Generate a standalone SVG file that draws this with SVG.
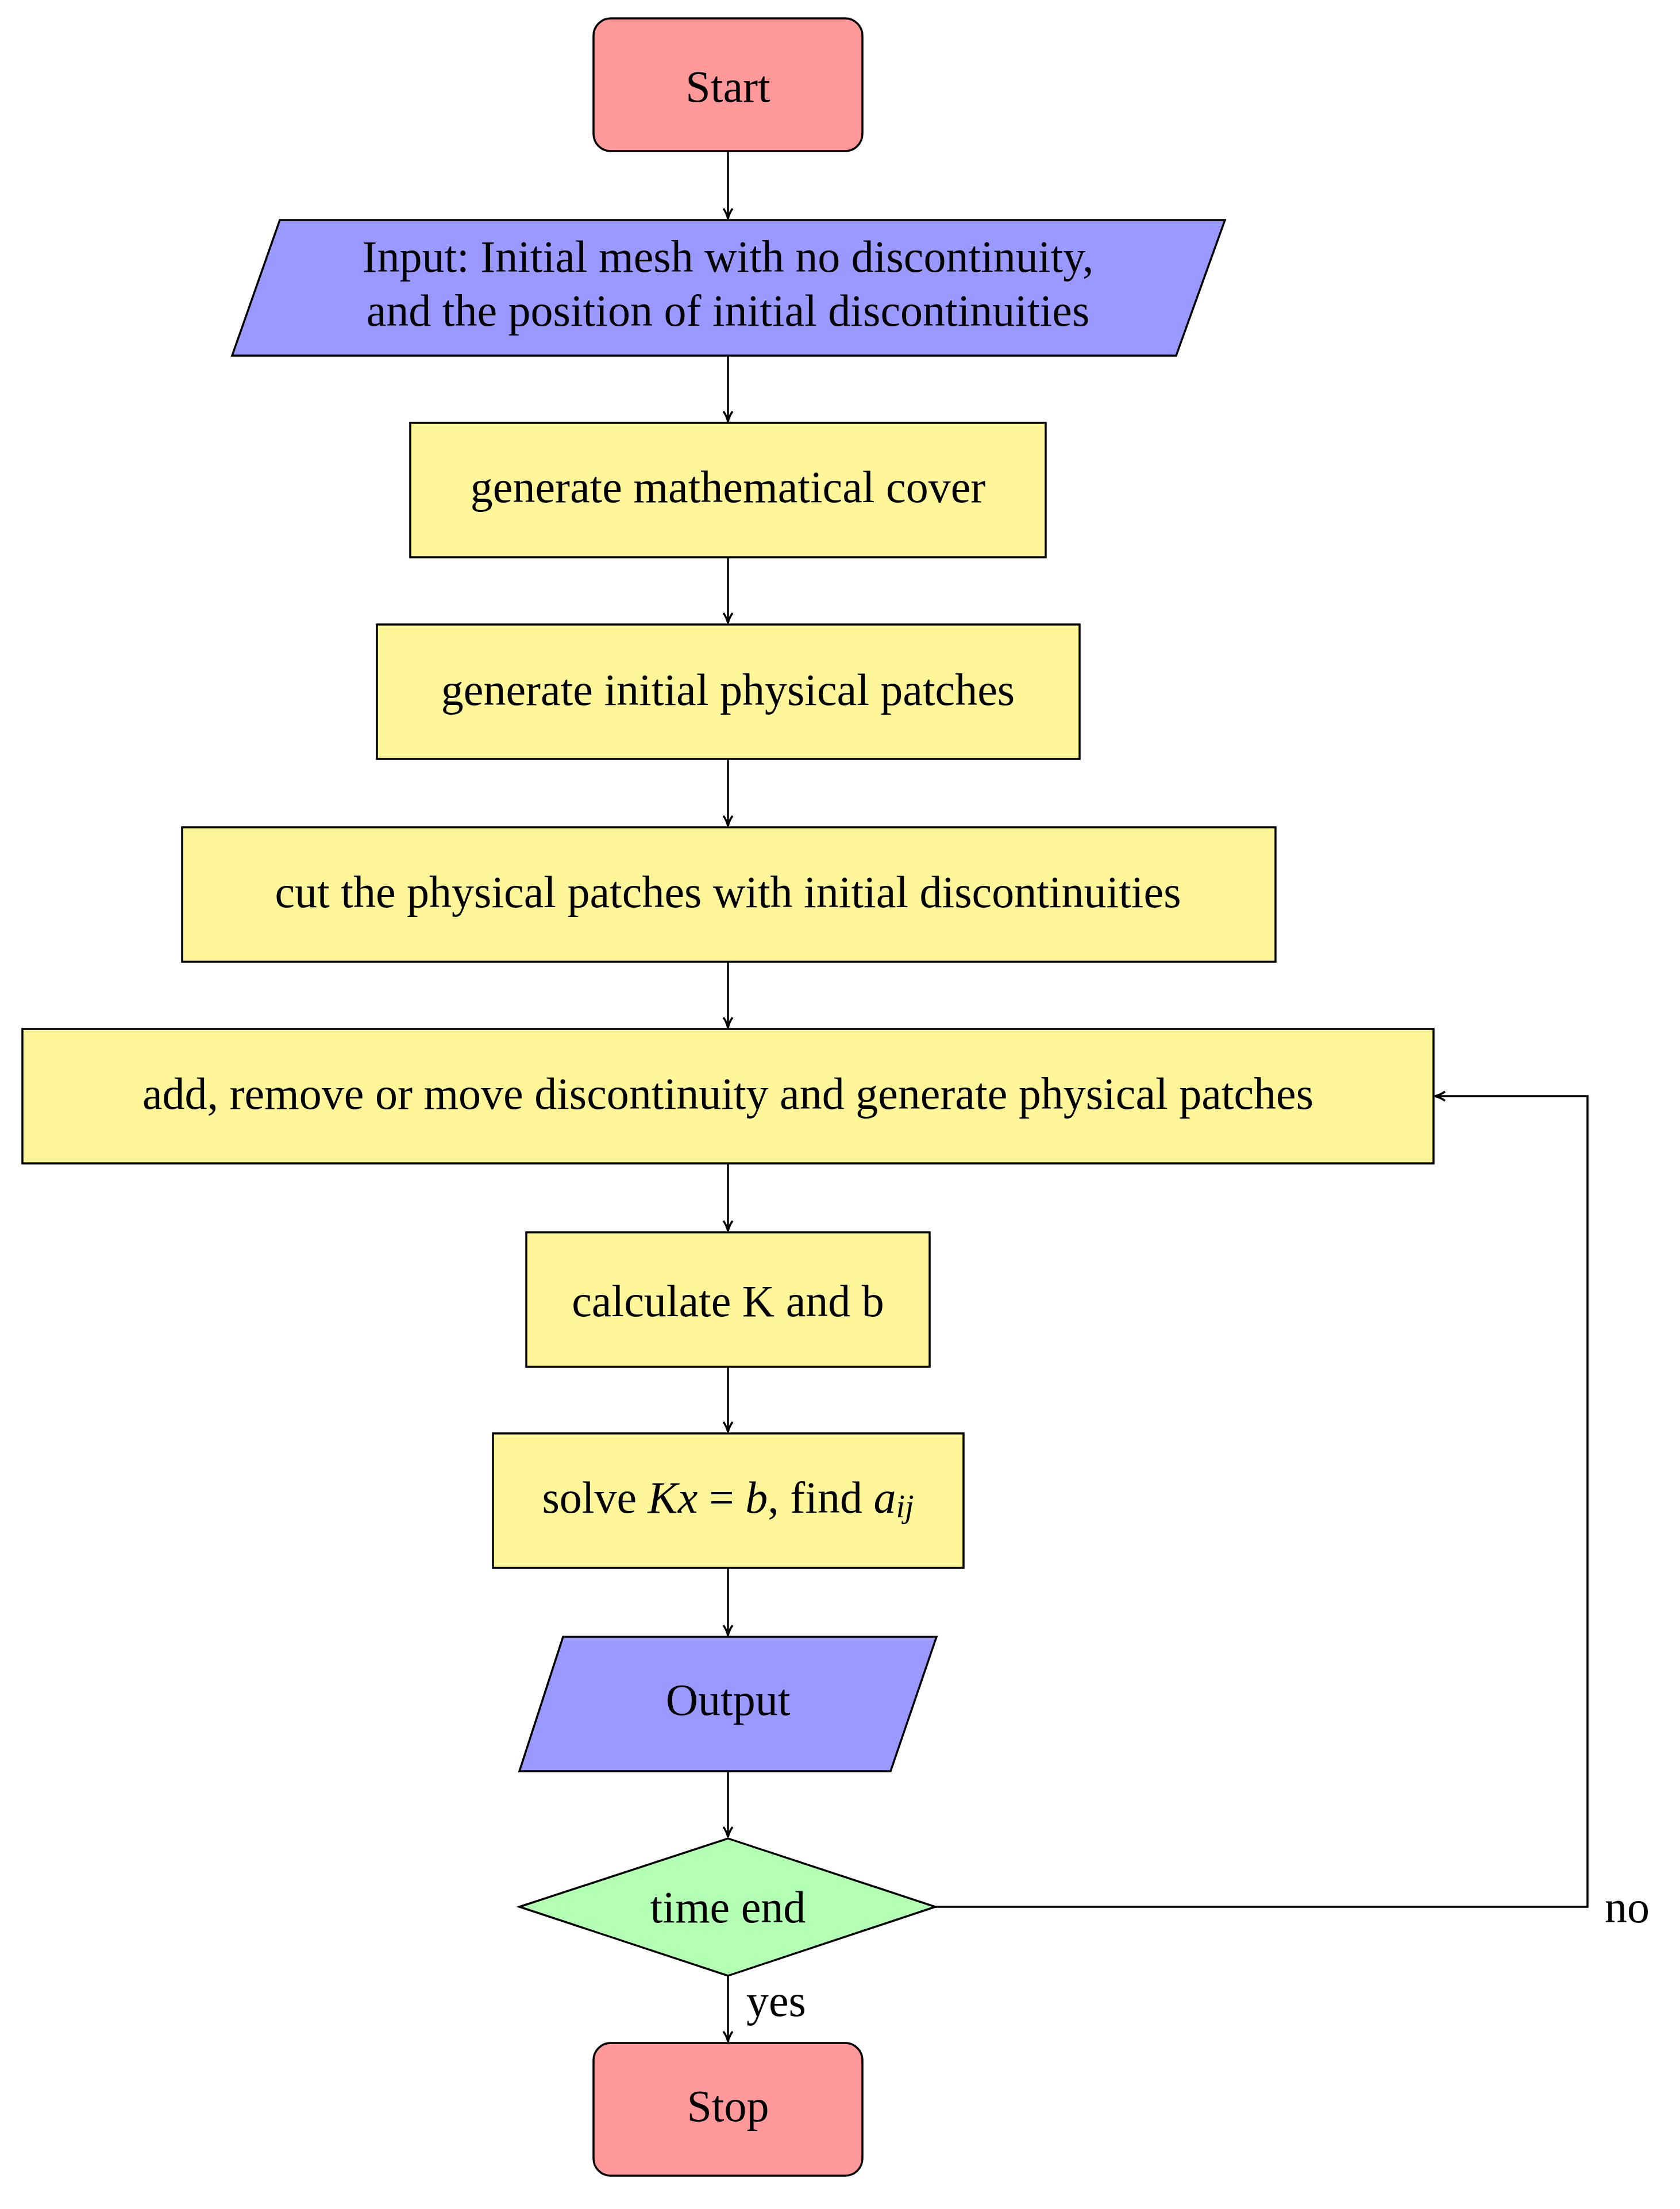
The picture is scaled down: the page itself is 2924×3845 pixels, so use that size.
<svg xmlns="http://www.w3.org/2000/svg" width="2924" height="3845" viewBox="0 0 2924 3845">
<style>
.s{stroke:#000;stroke-width:3.5}
.t{font-family:"Liberation Serif",serif;font-size:78px;text-anchor:middle;dominant-baseline:central}
.y{fill:#fff599}
.c{fill:none;stroke:#000;stroke-width:3.5}
</style>
<defs><marker id="a" markerWidth="24" markerHeight="24" refX="20" refY="10" orient="auto" markerUnits="userSpaceOnUse"><path d="M2,2 Q10,8 20,10 Q10,12 2,18" fill="none" stroke="#000" stroke-width="3.5"/></marker></defs>
<rect width="2924" height="3845" fill="#fff"/>
<g id="start"><rect class="s" x="1033" y="32" width="468" height="231" rx="30" fill="#ff9999"/><text class="t" x="1267" y="150">Start</text></g>
<g id="input"><polygon class="s" points="487,383 2132,383 2047,619 404,619" fill="#9999ff"/><text class="t" x="1267" y="446">Input: Initial mesh with no discontinuity,</text><text class="t" x="1267" y="540">and the position of initial discontinuities</text></g>
<g id="b1"><rect class="s y" x="714" y="736" width="1106" height="234"/><text class="t" x="1267" y="847">generate mathematical cover</text></g>
<g id="b2"><rect class="s y" x="656" y="1087" width="1223" height="234"/><text class="t" x="1267" y="1200">generate initial physical patches</text></g>
<g id="b3"><rect class="s y" x="317" y="1440" width="1903" height="234"/><text class="t" x="1267" y="1552">cut the physical patches with initial discontinuities</text></g>
<g id="b4"><rect class="s y" x="39" y="1791" width="2456" height="234"/><text class="t" x="1267" y="1903">add, remove or move discontinuity and generate physical patches</text></g>
<g id="b5"><rect class="s y" x="916" y="2145" width="702" height="234"/><text class="t" x="1267" y="2264">calculate K and b</text></g>
<g id="b6"><rect class="s y" x="858" y="2495" width="819" height="234"/><text class="t" x="1267" y="2606">solve <tspan font-style="italic">Kx</tspan> = <tspan font-style="italic">b</tspan>, find <tspan font-style="italic">a</tspan><tspan font-style="italic" font-size="56" dy="16">ij</tspan></text></g>
<g id="output"><polygon class="s" points="980,2849 1630,2849 1550,3083 904,3083" fill="#9999ff"/><text class="t" x="1267" y="2958">Output</text></g>
<g id="dec"><polygon class="s" points="904,3319 1267,3200 1628,3319 1267,3439" fill="#b3ffb3"/><text class="t" x="1267" y="3319">time end</text></g>
<g id="stop"><rect class="s" x="1033" y="3556" width="468" height="231" rx="30" fill="#ff9999"/><text class="t" x="1267" y="3665">Stop</text></g>
<g id="connectors">
<path class="c" marker-end="url(#a)" d="M1267,263V381"/>
<path class="c" marker-end="url(#a)" d="M1267,619V734"/>
<path class="c" marker-end="url(#a)" d="M1267,970V1085"/>
<path class="c" marker-end="url(#a)" d="M1267,1321V1438"/>
<path class="c" marker-end="url(#a)" d="M1267,1674V1789"/>
<path class="c" marker-end="url(#a)" d="M1267,2025V2143"/>
<path class="c" marker-end="url(#a)" d="M1267,2379V2493"/>
<path class="c" marker-end="url(#a)" d="M1267,2729V2847"/>
<path class="c" marker-end="url(#a)" d="M1267,3083V3198"/>
<path class="c" marker-end="url(#a)" d="M1267,3439V3554"/>
<path class="c" marker-end="url(#a)" d="M1628,3319H2763V1908H2497"/>
<text class="t" x="1299" y="3482" text-anchor="start" style="text-anchor:start">yes</text>
<text class="t" x="2793" y="3319" style="text-anchor:start">no</text>
</g>
</svg>
